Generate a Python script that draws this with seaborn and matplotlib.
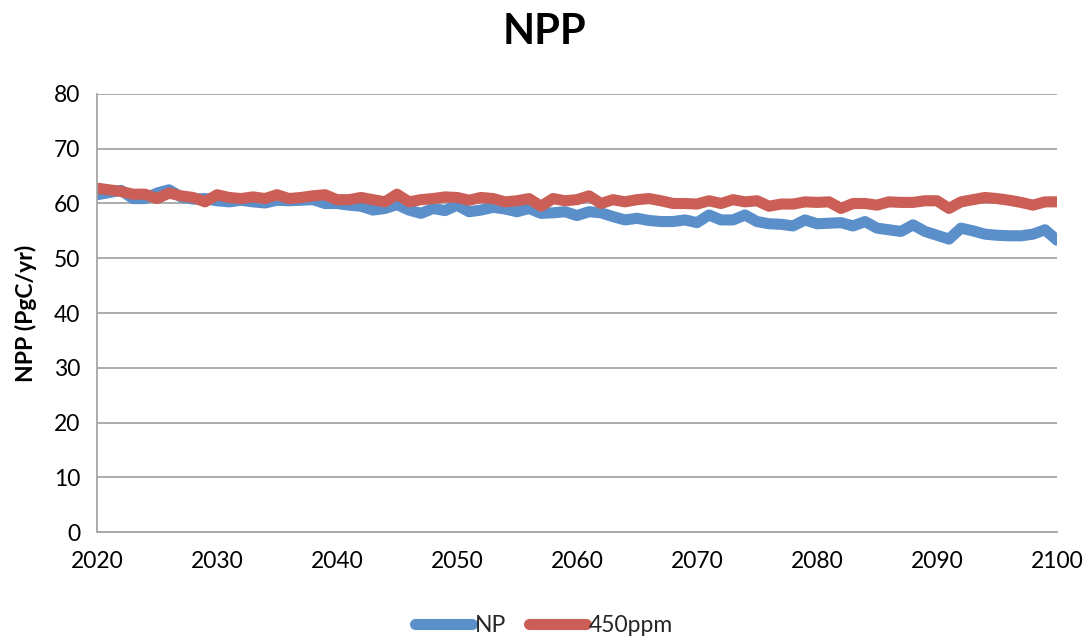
import matplotlib.pyplot as plt
import pandas as pd
import seaborn as sns

# NPP projections, one value per year 2020-2100
years = list(range(2020, 2101))

np_values = [
    61.6, 62.0, 62.4, 60.9, 60.9, 61.9, 62.5, 61.2, 60.8, 60.9,
    60.5, 60.3, 60.6, 60.3, 60.1, 60.6, 60.5, 60.6, 60.7, 60.0,
    60.0, 59.7, 59.5, 58.8, 59.1, 59.8, 58.8, 58.2, 59.1, 58.7,
    59.7, 58.5, 58.8, 59.3, 59.0, 58.5, 59.1, 58.2, 58.3, 58.5,
    57.8, 58.5, 58.3, 57.6, 57.0, 57.3, 56.9, 56.7, 56.7, 57.0,
    56.5, 57.9, 57.0, 57.0, 57.9, 56.7, 56.3, 56.2, 55.9, 57.0,
    56.3, 56.4, 56.5, 55.9, 56.7, 55.5, 55.2, 54.9, 56.1, 54.9,
    54.2, 53.5, 55.5, 55.0, 54.4, 54.2, 54.1, 54.1, 54.4, 55.2,
    53.3,
]

ppm450_values = [
    62.8, 62.5, 62.2, 61.7, 61.7, 60.9, 61.9, 61.4, 61.1, 60.3,
    61.6, 61.1, 60.9, 61.2, 60.9, 61.6, 60.9, 61.1, 61.4, 61.6,
    60.7, 60.7, 61.1, 60.7, 60.3, 61.7, 60.3, 60.7, 60.9, 61.2,
    61.1, 60.6, 61.1, 60.9, 60.3, 60.5, 60.9, 59.5, 60.9, 60.5,
    60.7, 61.4, 60.0, 60.7, 60.3, 60.7, 60.9, 60.5, 60.0, 60.0,
    59.9, 60.5, 60.0, 60.7, 60.3, 60.5, 59.5, 59.9, 59.9, 60.3,
    60.2, 60.3, 59.1, 60.0, 60.0, 59.7, 60.3, 60.2, 60.2, 60.5,
    60.5, 59.1, 60.3, 60.7, 61.1, 60.9, 60.6, 60.2, 59.7, 60.3,
    60.3,
]

series_names = ["NP", "450ppm"]
colors = ["#5B8FCA", "#CB5F57"]

df = pd.DataFrame({"year": years, "NP": np_values, "450ppm": ppm450_values})
df_long = df.melt(id_vars="year", var_name="scenario", value_name="npp")

sns.set_style("white")
plt.rcParams["font.family"] = ["Lato", "DejaVu Sans"]

fig = plt.figure(figsize=(10.88, 6.42), dpi=100)
ax = fig.add_axes([0.0892, 0.1713, 0.8823, 0.6823])

sns.lineplot(
    data=df_long, x="year", y="npp", hue="scenario", hue_order=series_names,
    palette=colors, linewidth=8, ax=ax, solid_capstyle="round",
    solid_joinstyle="round",
)

ax.set_xlim(2020, 2100)
ax.set_ylim(0, 80)
ax.set_xticks(range(2020, 2101, 10))
ax.set_yticks(range(0, 81, 10))
ax.grid(axis="y", color="#A6A6A6", linewidth=1.3)
ax.set_axisbelow(True)

for side in ["top", "right"]:
    ax.spines[side].set_visible(False)
for side in ["left", "bottom"]:
    ax.spines[side].set_color("#A6A6A6")
    ax.spines[side].set_linewidth(1.3)

ax.tick_params(axis="both", direction="out", length=6, width=1.3, color="#A6A6A6",
               labelsize=16.5, labelcolor="black")
ax.tick_params(axis="x", pad=8)
ax.tick_params(axis="y", pad=6)

ax.set_xlabel("")
ax.set_ylabel("NPP (PgC/yr)", fontsize=16.5, fontweight="bold", labelpad=12,
              color="black")
# title is centred on the whole figure, not the axes
fig.suptitle("NPP", x=0.5, y=0.95, va="center", fontsize=30, fontweight="bold",
             color="black")

# legend sits under the plot, centred on the figure
handles, labels = ax.get_legend_handles_labels()
ax.get_legend().remove()
fig.legend(
    handles, labels, loc="center", bbox_to_anchor=(0.5, 0.025), ncol=2,
    frameon=False, fontsize=16.5, handlelength=2.5, handletextpad=0.1,
    columnspacing=1.0,
)

fig.savefig("out.png", dpi=100)
plt.close(fig)
